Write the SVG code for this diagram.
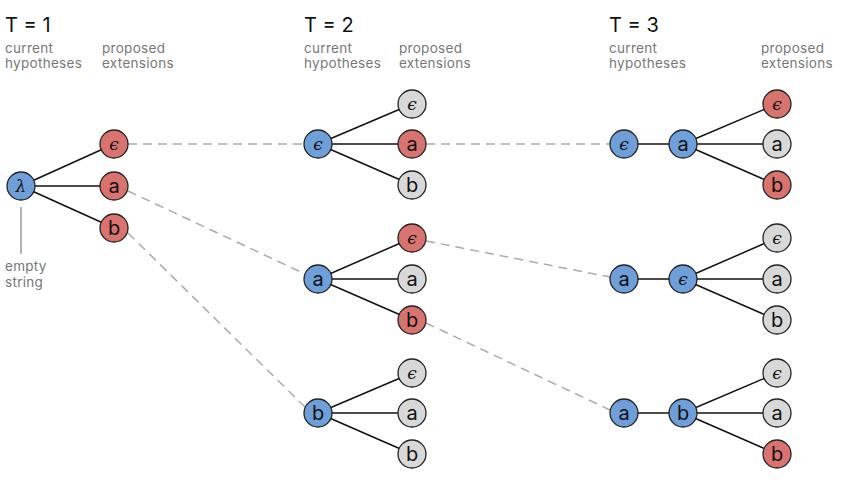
<svg xmlns="http://www.w3.org/2000/svg" width="862" height="484" viewBox="0 0 862 484">
<style>
.h{font-family:"Inter","Liberation Sans",sans-serif;font-size:20px;fill:#111}
.s{font-family:"Inter","Liberation Sans",sans-serif;font-size:13.5px;letter-spacing:0.3px;fill:#777}
.n circle{stroke:#222;stroke-width:1.3}
.bl{fill:#6f9fd9}.rd{fill:#d9736f}.gy{fill:#d8d8d8}
.t{font-family:"Inter","Liberation Sans",sans-serif;font-size:20px;fill:#111;text-anchor:middle;dominant-baseline:central}
.e{font-family:"DejaVu Serif",serif;font-style:italic;font-size:17px;fill:#111;text-anchor:middle;dominant-baseline:central}
.ed line{stroke:#111;stroke-width:1.5}
.ds line{stroke:#aaa;stroke-width:1.5;stroke-dasharray:9 6}
</style>
<g id="headers">
<text class="h" x="5" y="32">T = 1</text>
<text class="s" x="5" y="53">current</text><text class="s" x="5" y="68">hypotheses</text>
<text class="s" x="102" y="53">proposed</text><text class="s" x="102" y="68">extensions</text>
<text class="h" x="304" y="32">T = 2</text>
<text class="s" x="304" y="53">current</text><text class="s" x="304" y="68">hypotheses</text>
<text class="s" x="399" y="53">proposed</text><text class="s" x="399" y="68">extensions</text>
<text class="h" x="609" y="32">T = 3</text>
<text class="s" x="609" y="53">current</text><text class="s" x="609" y="68">hypotheses</text>
<text class="s" x="761" y="53">proposed</text><text class="s" x="761" y="68">extensions</text>
</g>
<g id="note">
<line x1="21" y1="207" x2="21" y2="254" stroke="#999" stroke-width="1.5"/>
<text class="s" x="5" y="271">empty</text><text class="s" x="5" y="287">string</text>
</g>
<g id="connectors">
<g class="ds">
<line x1="128" y1="144" x2="304" y2="144"/>
<line x1="128" y1="191" x2="305" y2="274"/>
<line x1="128" y1="233" x2="306" y2="408"/>
<line x1="426" y1="144" x2="610" y2="144"/>
<line x1="426" y1="241" x2="610" y2="277"/>
<line x1="426" y1="323" x2="610" y2="410"/>
</g>
<g class="ed">
<line x1="21" y1="186" x2="114" y2="144"/><line x1="21" y1="186" x2="114" y2="186"/><line x1="21" y1="186" x2="114" y2="228"/>
<line x1="318" y1="144" x2="412" y2="104"/><line x1="318" y1="144" x2="412" y2="144"/><line x1="318" y1="144" x2="412" y2="185"/>
<line x1="318" y1="279" x2="412" y2="238"/><line x1="318" y1="279" x2="412" y2="279"/><line x1="318" y1="279" x2="412" y2="320"/>
<line x1="318" y1="413" x2="412" y2="373"/><line x1="318" y1="413" x2="412" y2="413"/><line x1="318" y1="413" x2="412" y2="454"/>
<line x1="624" y1="144" x2="683" y2="144"/>
<line x1="683" y1="144" x2="777" y2="104"/><line x1="683" y1="144" x2="777" y2="144"/><line x1="683" y1="144" x2="777" y2="185"/>
<line x1="624" y1="279" x2="683" y2="279"/>
<line x1="683" y1="279" x2="777" y2="238"/><line x1="683" y1="279" x2="777" y2="279"/><line x1="683" y1="279" x2="777" y2="320"/>
<line x1="624" y1="413" x2="683" y2="413"/>
<line x1="683" y1="413" x2="777" y2="373"/><line x1="683" y1="413" x2="777" y2="413"/><line x1="683" y1="413" x2="777" y2="454"/>
</g>
</g>
<g id="t1-lambda" class="n"><circle class="bl" cx="21" cy="186" r="14"/><text class="e" x="21" y="186">λ</text></g>
<g id="t1-eps" class="n"><circle class="rd" cx="114" cy="144" r="14"/><text class="e" x="114" y="144">ϵ</text></g>
<g id="t1-a" class="n"><circle class="rd" cx="114" cy="186" r="14"/><text class="t" x="114" y="186">a</text></g>
<g id="t1-b" class="n"><circle class="rd" cx="114" cy="228" r="14"/><text class="t" x="114" y="228">b</text></g>

<g id="t2-eps" class="n"><circle class="bl" cx="318" cy="144" r="14"/><text class="e" x="318" y="144">ϵ</text></g>
<g id="t2-eps-eps" class="n"><circle class="gy" cx="412" cy="104" r="14"/><text class="e" x="412" y="104">ϵ</text></g>
<g id="t2-eps-a" class="n"><circle class="rd" cx="412" cy="144" r="14"/><text class="t" x="412" y="144">a</text></g>
<g id="t2-eps-b" class="n"><circle class="gy" cx="412" cy="185" r="14"/><text class="t" x="412" y="185">b</text></g>

<g id="t2-a" class="n"><circle class="bl" cx="318" cy="279" r="14"/><text class="t" x="318" y="279">a</text></g>
<g id="t2-a-eps" class="n"><circle class="rd" cx="412" cy="238" r="14"/><text class="e" x="412" y="238">ϵ</text></g>
<g id="t2-a-a" class="n"><circle class="gy" cx="412" cy="279" r="14"/><text class="t" x="412" y="279">a</text></g>
<g id="t2-a-b" class="n"><circle class="rd" cx="412" cy="320" r="14"/><text class="t" x="412" y="320">b</text></g>

<g id="t2-b" class="n"><circle class="bl" cx="318" cy="413" r="14"/><text class="t" x="318" y="413">b</text></g>
<g id="t2-b-eps" class="n"><circle class="gy" cx="412" cy="373" r="14"/><text class="e" x="412" y="373">ϵ</text></g>
<g id="t2-b-a" class="n"><circle class="gy" cx="412" cy="413" r="14"/><text class="t" x="412" y="413">a</text></g>
<g id="t2-b-b" class="n"><circle class="gy" cx="412" cy="454" r="14"/><text class="t" x="412" y="454">b</text></g>

<g id="t3-1-eps" class="n"><circle class="bl" cx="624" cy="144" r="14"/><text class="e" x="624" y="144">ϵ</text></g>
<g id="t3-1-a" class="n"><circle class="bl" cx="683" cy="144" r="14"/><text class="t" x="683" y="144">a</text></g>
<g id="t3-1-x-eps" class="n"><circle class="rd" cx="777" cy="104" r="14"/><text class="e" x="777" y="104">ϵ</text></g>
<g id="t3-1-x-a" class="n"><circle class="gy" cx="777" cy="144" r="14"/><text class="t" x="777" y="144">a</text></g>
<g id="t3-1-x-b" class="n"><circle class="rd" cx="777" cy="185" r="14"/><text class="t" x="777" y="185">b</text></g>

<g id="t3-2-a" class="n"><circle class="bl" cx="624" cy="279" r="14"/><text class="t" x="624" y="279">a</text></g>
<g id="t3-2-eps" class="n"><circle class="bl" cx="683" cy="279" r="14"/><text class="e" x="683" y="279">ϵ</text></g>
<g id="t3-2-x-eps" class="n"><circle class="gy" cx="777" cy="238" r="14"/><text class="e" x="777" y="238">ϵ</text></g>
<g id="t3-2-x-a" class="n"><circle class="gy" cx="777" cy="279" r="14"/><text class="t" x="777" y="279">a</text></g>
<g id="t3-2-x-b" class="n"><circle class="gy" cx="777" cy="320" r="14"/><text class="t" x="777" y="320">b</text></g>

<g id="t3-3-a" class="n"><circle class="bl" cx="624" cy="413" r="14"/><text class="t" x="624" y="413">a</text></g>
<g id="t3-3-b" class="n"><circle class="bl" cx="683" cy="413" r="14"/><text class="t" x="683" y="413">b</text></g>
<g id="t3-3-x-eps" class="n"><circle class="gy" cx="777" cy="373" r="14"/><text class="e" x="777" y="373">ϵ</text></g>
<g id="t3-3-x-a" class="n"><circle class="gy" cx="777" cy="413" r="14"/><text class="t" x="777" y="413">a</text></g>
<g id="t3-3-x-b" class="n"><circle class="rd" cx="777" cy="454" r="14"/><text class="t" x="777" y="454">b</text></g>
</svg>
